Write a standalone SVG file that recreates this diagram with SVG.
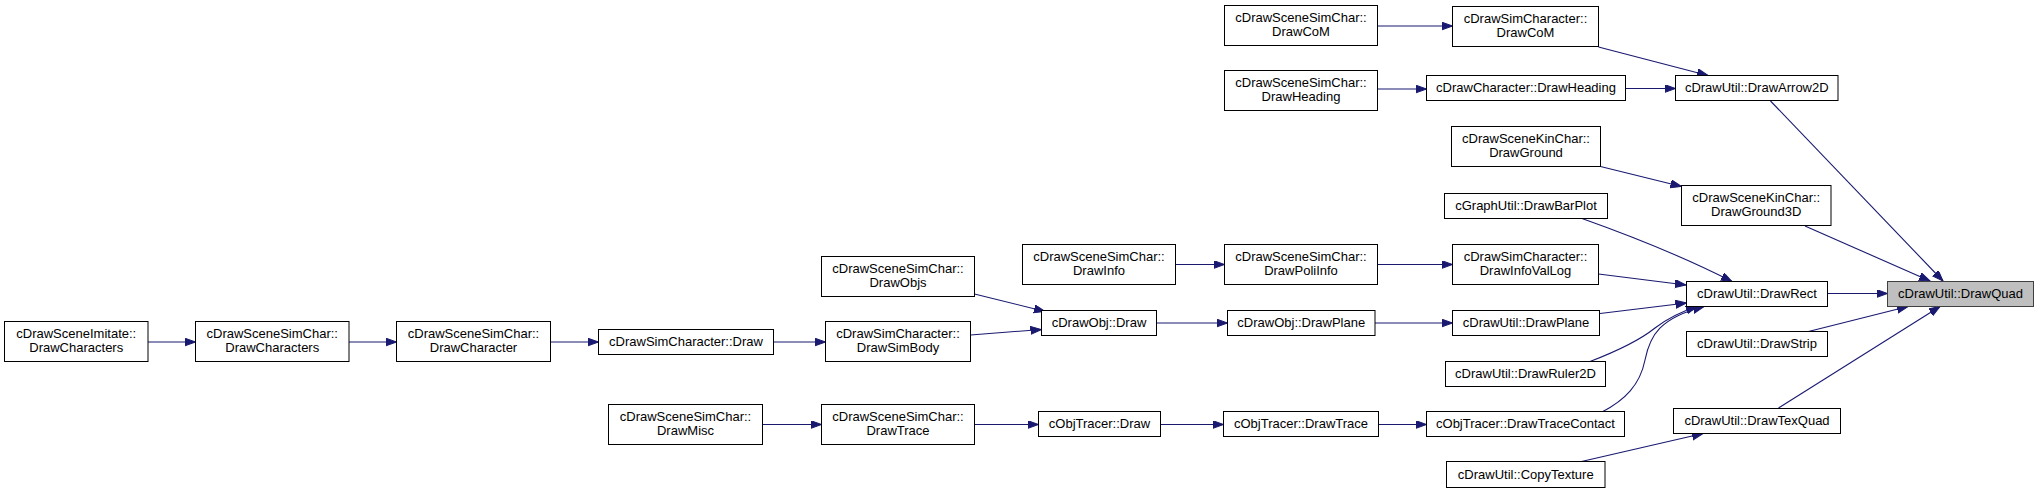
<svg xmlns="http://www.w3.org/2000/svg" width="2039" height="494" viewBox="0 0 2039 494">
<style>
.n rect{fill:#fff;stroke:#000;stroke-width:1}
.root rect{fill:#bfbfbf;stroke:#404040}
text{font-family:"Liberation Sans",Arial,sans-serif;font-size:13px;fill:#000;text-anchor:middle}
.e path{fill:none;stroke:#191970;stroke-width:1.1;marker-end:url(#ah)}
</style>
<defs>
<marker id="ah" markerUnits="userSpaceOnUse" markerWidth="12" markerHeight="9" refX="11" refY="4" orient="auto">
<path d="M0,0 L11,4 L0,8 z" fill="#191970" stroke="#191970" stroke-width="1"/>
</marker>
</defs>
<rect width="2039" height="494" fill="#fff"/>
<g class="e" id="edges">
<path d="M148,342 L195.5,342"/>
<path d="M349,342 L396.5,342"/>
<path d="M550.5,342 L598.5,342"/>
<path d="M773.5,342 L825.5,342"/>
<path d="M970.5,335 L1041.5,329.5"/>
<path d="M974.5,294 L1045,311.5"/>
<path d="M1156.5,323 L1227.5,323"/>
<path d="M1375,323 L1452.5,323"/>
<path d="M1175.5,264.5 L1224.5,264.5"/>
<path d="M1377.5,264.5 L1452.5,264.5"/>
<path d="M1377.5,26 L1452.5,26"/>
<path d="M1377.5,89 L1426.5,89"/>
<path d="M762.5,424.5 L821.5,424.5"/>
<path d="M974.5,424.5 L1038.5,424.5"/>
<path d="M1160.5,424.5 L1223.5,424.5"/>
<path d="M1378.5,424.5 L1426.5,424.5"/>
<path d="M1598.5,47 L1708,75.5"/>
<path d="M1625.5,88.5 L1675.5,88.5"/>
<path d="M1770.5,101 L1943,281"/>
<path d="M1600.5,166.5 L1681.5,186.5"/>
<path d="M1805,226 L1930,281"/>
<path d="M1582,218.5 C1620,232 1680,255 1732,281.5"/>
<path d="M1598.5,274 L1686,285"/>
<path d="M1600,313.5 L1686.5,303"/>
<path d="M1590,361.5 C1620,350 1640,340 1655,328 C1668,318 1680,312 1697,306.5"/>
<path d="M1602,412 C1625,400 1640,385 1645,360 C1650,335 1660,318 1704,306.5"/>
<path d="M1827.5,293.5 L1887.5,293.5"/>
<path d="M1808.5,331.5 L1908,306.5"/>
<path d="M1778.5,408 L1940,306.5"/>
<path d="M1581.5,461.5 L1703,433.5"/>
</g>
<g class="n" id="n_imitate"><rect x="4.5" y="321.5" width="143.5" height="40"/><text x="76.25" y="338">cDrawSceneImitate::</text><text x="76.25" y="352">DrawCharacters</text></g>
<g class="n" id="n_sim_drawchars"><rect x="195.5" y="321.5" width="153.5" height="40"/><text x="272.25" y="338">cDrawSceneSimChar::</text><text x="272.25" y="352">DrawCharacters</text></g>
<g class="n" id="n_sim_drawchar"><rect x="396.5" y="321.5" width="154" height="40"/><text x="473.5" y="338">cDrawSceneSimChar::</text><text x="473.5" y="352">DrawCharacter</text></g>
<g class="n" id="n_simchar_draw"><rect x="598.5" y="329.5" width="175" height="25"/><text x="686" y="346.3">cDrawSimCharacter::Draw</text></g>
<g class="n" id="n_simbody"><rect x="825.5" y="321.5" width="145" height="40"/><text x="898" y="338">cDrawSimCharacter::</text><text x="898" y="352">DrawSimBody</text></g>
<g class="n" id="n_objs"><rect x="821.5" y="256.5" width="153" height="40"/><text x="898" y="273">cDrawSceneSimChar::</text><text x="898" y="287">DrawObjs</text></g>
<g class="n" id="n_info"><rect x="1022.5" y="244.5" width="153" height="40"/><text x="1099" y="261">cDrawSceneSimChar::</text><text x="1099" y="275">DrawInfo</text></g>
<g class="n" id="n_poliinfo"><rect x="1224.5" y="244.5" width="153" height="40"/><text x="1301" y="261">cDrawSceneSimChar::</text><text x="1301" y="275">DrawPoliInfo</text></g>
<g class="n" id="n_scom"><rect x="1224.5" y="5.5" width="153" height="40"/><text x="1301" y="22">cDrawSceneSimChar::</text><text x="1301" y="36">DrawCoM</text></g>
<g class="n" id="n_sheading"><rect x="1224.5" y="70.5" width="153" height="40"/><text x="1301" y="87">cDrawSceneSimChar::</text><text x="1301" y="101">DrawHeading</text></g>
<g class="n" id="n_objdraw"><rect x="1041.5" y="310.5" width="115" height="25"/><text x="1099" y="327.3">cDrawObj::Draw</text></g>
<g class="n" id="n_objplane"><rect x="1227.5" y="310.5" width="147.5" height="25"/><text x="1301.25" y="327.3">cDrawObj::DrawPlane</text></g>
<g class="n" id="n_misc"><rect x="608.5" y="404.5" width="154" height="40"/><text x="685.5" y="421">cDrawSceneSimChar::</text><text x="685.5" y="435">DrawMisc</text></g>
<g class="n" id="n_trace"><rect x="821.5" y="404.5" width="153" height="40"/><text x="898" y="421">cDrawSceneSimChar::</text><text x="898" y="435">DrawTrace</text></g>
<g class="n" id="n_tracerdraw"><rect x="1038.5" y="411.5" width="122" height="25"/><text x="1099.5" y="428.3">cObjTracer::Draw</text></g>
<g class="n" id="n_tracertrace"><rect x="1223.5" y="411.5" width="155" height="25"/><text x="1301" y="428.3">cObjTracer::DrawTrace</text></g>
<g class="n" id="n_com"><rect x="1452.5" y="6.5" width="146" height="40"/><text x="1525.5" y="23">cDrawSimCharacter::</text><text x="1525.5" y="37">DrawCoM</text></g>
<g class="n" id="n_heading"><rect x="1426.5" y="75.5" width="199" height="25"/><text x="1526" y="92.3">cDrawCharacter::DrawHeading</text></g>
<g class="n" id="n_arrow2d"><rect x="1675.5" y="75.5" width="162.5" height="25"/><text x="1756.75" y="92.3">cDrawUtil::DrawArrow2D</text></g>
<g class="n" id="n_ground"><rect x="1451.5" y="126.5" width="149" height="40"/><text x="1526" y="143">cDrawSceneKinChar::</text><text x="1526" y="157">DrawGround</text></g>
<g class="n" id="n_ground3d"><rect x="1681.5" y="185.5" width="149.5" height="40"/><text x="1756.25" y="202">cDrawSceneKinChar::</text><text x="1756.25" y="216">DrawGround3D</text></g>
<g class="n" id="n_barplot"><rect x="1444.5" y="193.5" width="163" height="25"/><text x="1526" y="210.3">cGraphUtil::DrawBarPlot</text></g>
<g class="n" id="n_infovallog"><rect x="1452.5" y="244.5" width="146" height="40"/><text x="1525.5" y="261">cDrawSimCharacter::</text><text x="1525.5" y="275">DrawInfoValLog</text></g>
<g class="n" id="n_rect"><rect x="1686.5" y="281.5" width="141" height="25"/><text x="1757" y="298.3">cDrawUtil::DrawRect</text></g>
<g class="n root" id="n_quad"><rect x="1887.5" y="281.5" width="146" height="25"/><text x="1960.5" y="298.3">cDrawUtil::DrawQuad</text></g>
<g class="n" id="n_plane"><rect x="1452.5" y="310.5" width="147" height="25"/><text x="1526" y="327.3">cDrawUtil::DrawPlane</text></g>
<g class="n" id="n_strip"><rect x="1686.5" y="331.5" width="141" height="25"/><text x="1757" y="348.3">cDrawUtil::DrawStrip</text></g>
<g class="n" id="n_ruler"><rect x="1445.5" y="361.5" width="160" height="25"/><text x="1525.5" y="378.3">cDrawUtil::DrawRuler2D</text></g>
<g class="n" id="n_tracecontact"><rect x="1426.5" y="411.5" width="198" height="25"/><text x="1525.5" y="428.3">cObjTracer::DrawTraceContact</text></g>
<g class="n" id="n_texquad"><rect x="1673.5" y="408.5" width="167" height="25"/><text x="1757" y="425.3">cDrawUtil::DrawTexQuad</text></g>
<g class="n" id="n_copytex"><rect x="1446.5" y="461.5" width="158.5" height="26"/><text x="1525.75" y="478.8">cDrawUtil::CopyTexture</text></g>
</svg>
